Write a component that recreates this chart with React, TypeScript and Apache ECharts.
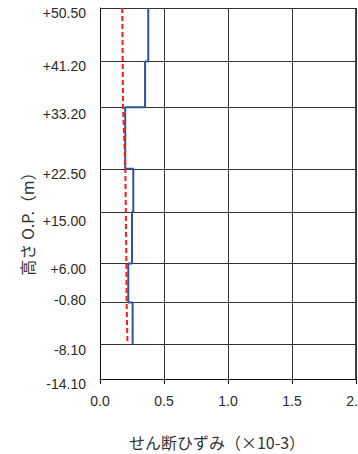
import React, { useEffect, useRef } from "react";
import * as echarts from "echarts";

// Elevation levels (O.P. m) used as y tick labels
const levels = [50.5, 41.2, 33.2, 22.5, 15.0, 6.0, -0.8, -8.1, -14.1];
// x ticks (shear strain ×10^-3)
const strainTicks = [0, 0.5, 1.0, 1.5, 2.0];

// Blue step profile: strain and elevation
const blueStrain = [0.377, 0.377, 0.352, 0.352, 0.197, 0.197, 0.26, 0.26, 0.25, 0.25, 0.221, 0.221, 0.255, 0.255];
const blueDepth = [50.5, 41.2, 41.2, 33.2, 33.2, 22.5, 22.5, 15.0, 15.0, 6.0, 6.0, -0.8, -0.8, -8.1];

// Red dashed profile
const redStrain = [0.174, 0.18, 0.198, 0.206, 0.208, 0.215];
const redDepth = [50.5, 33.2, 22.5, 6.0, -0.8, -8.1];

const xTitle = "せん断ひずみ（×10-3）";
const yTitle = "高さ O.P.（m）";

function fmtLevel(v: number): string {
  const s = (v > 0 ? "+" : "") + v.toFixed(2);
  if (Math.abs(v - 15) < 1e-6) return "{l|" + s + "}";
  if (Math.abs(v - 33.2) < 1e-6) return "{m|" + s + "}";
  if (Math.abs(v + 0.8) < 1e-6) return "{u|" + s + "}";
  return "{d|" + s + "}";
}

export default function App() {
  const ref = useRef<HTMLDivElement>(null);
  useEffect(() => {
    if (!ref.current) return;
    const chart = echarts.init(ref.current, undefined, { renderer: "svg" });
    const labelFont = { fontFamily: "Liberation Sans", fontSize: 14, color: "#2a2a2a" };
    chart.setOption({
      animation: false,
      backgroundColor: "#fff",
      grid: {
        left: 100,
        top: 8,
        width: 256,
        height: 371,
        containLabel: false,
        outerBoundsMode: "none",
      },
      xAxis: {
        type: "value",
        min: 0,
        max: 2,
        interval: 0.5,
        axisLine: { show: true, onZero: false, lineStyle: { color: "#111", width: 1 } },
        axisTick: { show: true, inside: false, length: 5, lineStyle: { color: "#111" } },
        axisLabel: {
          ...labelFont,
          margin: 15,
          showMaxLabel: true,
          formatter: (v: number) => v.toFixed(1),
        },
        splitLine: { show: true, lineStyle: { color: "#333", width: 1 } },
      },
      yAxis: {
        type: "value",
        min: -14.1,
        max: 50.5,
        axisLine: { show: true, onZero: false, lineStyle: { color: "#111", width: 1 } },
        axisTick: { show: false, customValues: levels },
        axisLabel: {
          ...labelFont,
          customValues: levels,
          margin: 14,
          showMinLabel: true,
          showMaxLabel: true,
          formatter: (v: number) => fmtLevel(v),
          rich: {
            d: { ...labelFont, padding: [10, 0, 0, 0] },
            m: { ...labelFont, padding: [14, 0, 0, 0] },
            l: { ...labelFont, padding: [18, 0, 0, 0] },
            u: { ...labelFont, padding: [0, 0, 6, 0] },
          },
        },
        splitLine: { show: true, lineStyle: { color: "#333", width: 1 } },
      },
      graphic: [
        {
          type: "rect",
          shape: { x: 355, y: 8, width: 2, height: 371 },
          style: { fill: "#444" },
          silent: true,
        },
        {
          type: "text",
          x: 217,
          y: 442,
          style: {
            text: xTitle,
            fontFamily: "Noto Sans CJK JP",
            fontSize: 16,
            fill: "#333",
            align: "center",
            verticalAlign: "middle",
          },
        },
        {
          type: "text",
          x: 27,
          y: 220,
          rotation: Math.PI / 2,
          style: {
            text: yTitle,
            fontFamily: "Noto Sans CJK JP",
            fontSize: 16,
            fill: "#333",
            align: "center",
            verticalAlign: "middle",
          },
        },
      ],
      series: [
        {
          type: "line",
          data: blueStrain.map((s, i) => [s, blueDepth[i]]),
          showSymbol: false,
          symbol: "none",
          lineStyle: { color: "#2F5597", width: 2 },
          z: 3,
        },
        {
          type: "line",
          data: redStrain.map((s, i) => [s, redDepth[i]]),
          showSymbol: false,
          symbol: "none",
          lineStyle: { color: "#FF1A1A", width: 2, type: [5, 3] },
          z: 4,
        },
      ],
    });
    return () => chart.dispose();
  }, []);
  return (
    <div
      ref={ref}
      style={{ position: "absolute", left: 0, top: 0, width: 358, height: 454 }}
    />
  );
}
